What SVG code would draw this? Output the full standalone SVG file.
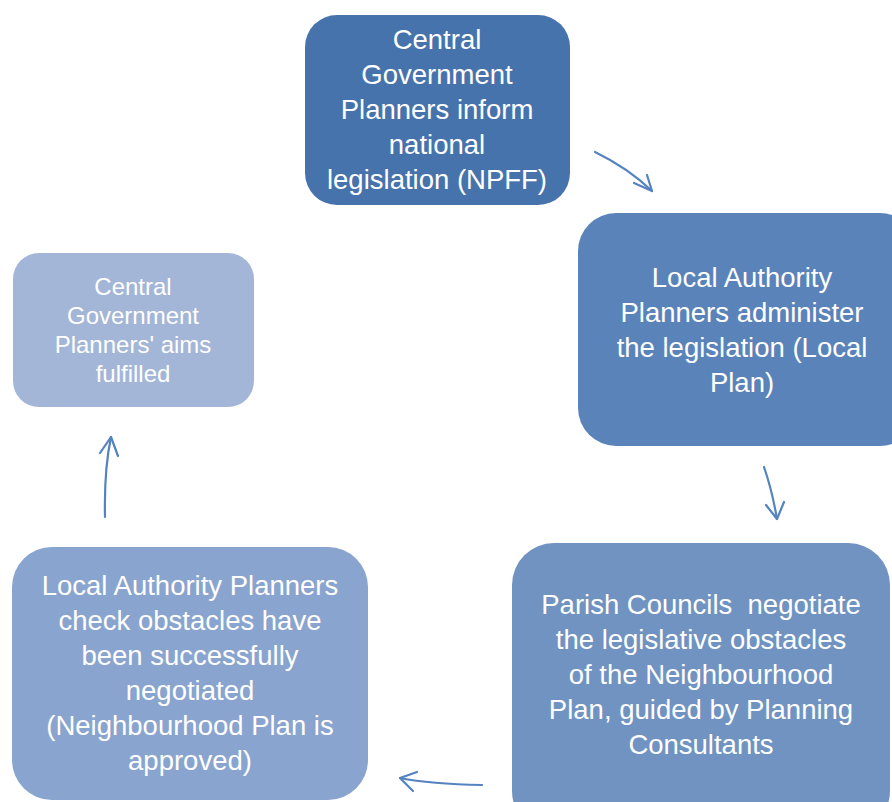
<svg xmlns="http://www.w3.org/2000/svg" width="892" height="802" viewBox="0 0 892 802">
  <style>
    .lbl { font-family: "Liberation Sans", Arial, sans-serif; font-size: 27.5px; fill: #ffffff; text-anchor: middle; }
    .sm { font-size: 24px; }
    .arrow { fill: none; stroke: #5583C0; stroke-width: 2.2; stroke-linecap: round; stroke-linejoin: round; }
  </style>
  <rect width="892" height="802" fill="#ffffff"/>

  <g id="node-central">
    <rect x="305" y="15" width="265" height="190" rx="32" fill="#4773AC"/>
    <text class="lbl" x="437" y="49">Central</text>
    <text class="lbl" x="437" y="84">Government</text>
    <text class="lbl" x="437" y="119">Planners inform</text>
    <text class="lbl" x="437" y="154">national</text>
    <text class="lbl" x="437" y="189">legislation (NPFF)</text>
  </g>

  <g id="node-local-plan">
    <rect x="578" y="213" width="340" height="233" rx="38" fill="#5A83BA"/>
    <text class="lbl" x="742" y="287">Local Authority</text>
    <text class="lbl" x="742" y="322">Planners administer</text>
    <text class="lbl" x="742" y="357">the legislation (Local</text>
    <text class="lbl" x="742" y="392">Plan)</text>
  </g>

  <g id="node-parish">
    <rect x="512" y="543" width="378" height="290" rx="42" fill="#7093C2"/>
    <text class="lbl" x="701" y="614">Parish Councils&#160; negotiate</text>
    <text class="lbl" x="701" y="649">the legislative obstacles</text>
    <text class="lbl" x="701" y="684">of the Neighbourhood</text>
    <text class="lbl" x="701" y="719">Plan, guided by Planning</text>
    <text class="lbl" x="701" y="754">Consultants</text>
  </g>

  <g id="node-check">
    <rect x="12" y="547" width="356" height="253" rx="40" fill="#89A4CE"/>
    <text class="lbl" x="190" y="595">Local Authority Planners</text>
    <text class="lbl" x="190" y="630">check obstacles have</text>
    <text class="lbl" x="190" y="665">been successfully</text>
    <text class="lbl" x="190" y="700">negotiated</text>
    <text class="lbl" x="190" y="735">(Neighbourhood Plan is</text>
    <text class="lbl" x="190" y="770">approved)</text>
  </g>

  <g id="node-fulfilled">
    <rect x="13" y="253" width="241" height="154" rx="26" fill="#A3B6D7"/>
    <text class="lbl sm" x="133" y="295">Central</text>
    <text class="lbl sm" x="133" y="324">Government</text>
    <text class="lbl sm" x="133" y="353">Planners' aims</text>
    <text class="lbl sm" x="133" y="382">fulfilled</text>
  </g>

  <g id="connectors">
    <path class="arrow" d="M595,152 Q628,168 652,191"/>
    <path class="arrow" d="M634,183 L652,191 L647,175"/>
    <path class="arrow" d="M764,467 Q772,490 777,519"/>
    <path class="arrow" d="M766,505 L777,519 L784,502"/>
    <path class="arrow" d="M482,785 Q430,784 400,778"/>
    <path class="arrow" d="M417,772 L400,778 L413,791"/>
    <path class="arrow" d="M105,517 Q104,470 111,437"/>
    <path class="arrow" d="M100,453 L111,437 L118,456"/>
  </g>
</svg>
